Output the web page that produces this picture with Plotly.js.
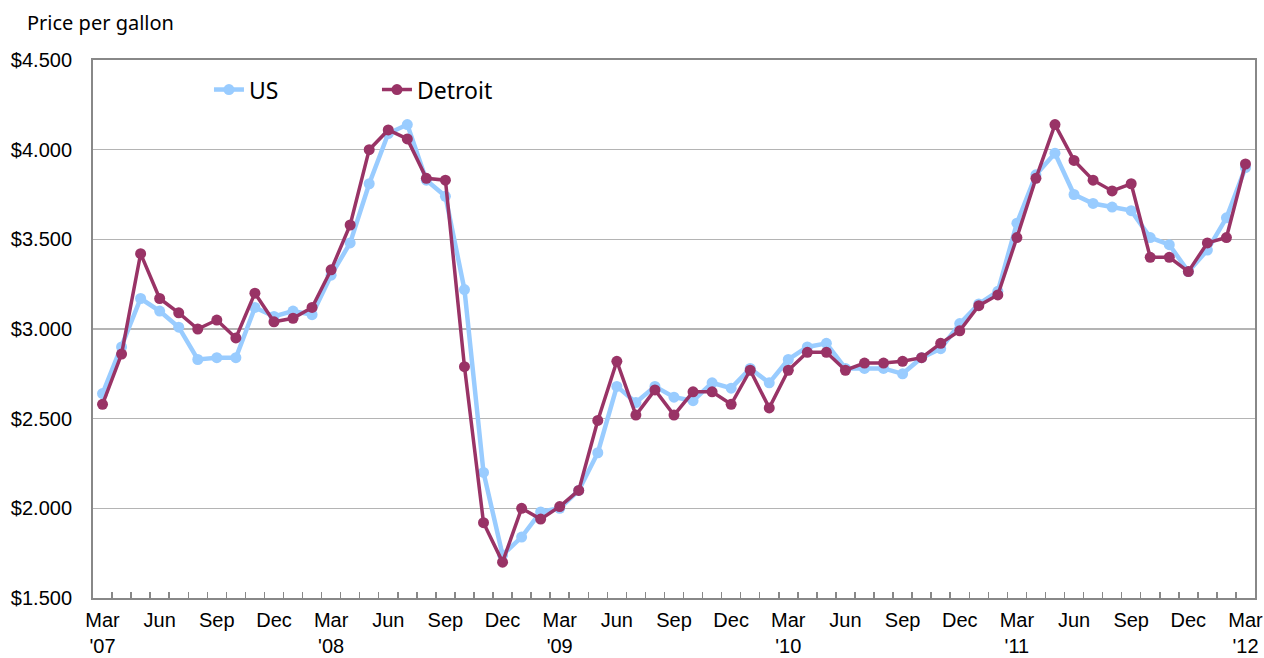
<!DOCTYPE html>
<html>
<head>
<meta charset="utf-8">
<script src="https://cdn.plot.ly/plotly-3.0.1.min.js"></script>
<style>html,body{margin:0;padding:0;background:#fff;}#chart{width:1264px;height:658px;}</style>
</head>
<body>
<div id="chart"></div>
<script>
const months = ["Mar","Apr","May","Jun","Jul","Aug","Sep","Oct","Nov","Dec","Jan","Feb"];
const startYear = 2007;
const us = [2.64, 2.90, 3.17, 3.10, 3.01, 2.83, 2.84, 2.84, 3.12, 3.07, 3.10, 3.08,
            3.30, 3.48, 3.81, 4.09, 4.14, 3.83, 3.74, 3.22, 2.20, 1.74, 1.84, 1.98,
            2.00, 2.10, 2.31, 2.68, 2.59, 2.68, 2.62, 2.60, 2.70, 2.67, 2.78, 2.70,
            2.83, 2.90, 2.92, 2.78, 2.78, 2.78, 2.75, 2.84, 2.89, 3.03, 3.14, 3.21,
            3.59, 3.86, 3.98, 3.75, 3.70, 3.68, 3.66, 3.51, 3.47, 3.32, 3.44, 3.62,
            3.90];
const detroit = [2.58, 2.86, 3.42, 3.17, 3.09, 3.00, 3.05, 2.95, 3.20, 3.04, 3.06, 3.12,
                 3.33, 3.58, 4.00, 4.11, 4.06, 3.84, 3.83, 2.79, 1.92, 1.70, 2.00, 1.94,
                 2.01, 2.10, 2.49, 2.82, 2.52, 2.66, 2.52, 2.65, 2.65, 2.58, 2.77, 2.56,
                 2.77, 2.87, 2.87, 2.77, 2.81, 2.81, 2.82, 2.84, 2.92, 2.99, 3.13, 3.19,
                 3.51, 3.84, 4.14, 3.94, 3.83, 3.77, 3.81, 3.40, 3.40, 3.32, 3.48, 3.51,
                 3.92];

const n = us.length;
const idx = us.map((_, i) => i);
const tickvals = [], ticktext = [];
for (let i = 0; i < n; i += 3) {
  const m = months[i % 12];
  let t = m;
  if (i % 12 === 0) {
    const yr = String(startYear + i / 12).slice(2);
    t = m + "<br>'" + yr;
  }
  tickvals.push(i);
  ticktext.push(t);
}
const minorVals = [];
for (let i = 0; i < n - 1; i++) minorVals.push(i + 0.5);

const traces = [
  {x: idx, y: us, name: "US", type: "scatter", mode: "lines+markers",
   line: {color: "#99CCFF", width: 4.5}, marker: {color: "#99CCFF", size: 11}},
  {x: idx, y: detroit, name: "Detroit", type: "scatter", mode: "lines+markers",
   line: {color: "#993366", width: 3.5}, marker: {color: "#993366", size: 11}}
];

const layout = {
  width: 1264, height: 658,
  margin: {l: 93, r: 9, t: 60, b: 60},
  paper_bgcolor: "#fff", plot_bgcolor: "#fff",
  font: {family: "Liberation Sans, Arial, sans-serif", size: 20, color: "#000"},
  showlegend: true,
  legend: {orientation: "h", x: 0.0998, y: 0.985, xanchor: "left", yanchor: "top",
           entrywidth: 123, entrywidthmode: "pixels",
           font: {family: "Noto Sans, sans-serif", size: 23, color: "#000"},
           bgcolor: "rgba(0,0,0,0)"},
  xaxis: {
    range: [-0.5, n - 0.5], tickmode: "array", tickvals: tickvals, ticktext: ticktext,
    ticks: "outside", ticklen: 3, tickcolor: "rgba(0,0,0,0)",
    showgrid: false, zeroline: false,
    showline: true, mirror: true, linecolor: "#888", linewidth: 2,
    tickfont: {family: "Liberation Sans, Arial, sans-serif", size: 20},
    minor: {tickmode: "array", tickvals: minorVals, ticks: "inside", ticklen: 6,
            tickcolor: "#888", tickwidth: 1.5, showgrid: false}
  },
  yaxis: {
    range: [1.5, 4.5], dtick: 0.5, tick0: 1.5, tickformat: "$.3f",
    ticks: "outside", ticklen: 15, tickcolor: "rgba(0,0,0,0)",
    showgrid: true, gridcolor: "#b4b4b4", gridwidth: 1.5, zeroline: false,
    showline: true, mirror: true, linecolor: "#888", linewidth: 2,
    tickfont: {family: "Liberation Sans, Arial, sans-serif", size: 20}
  },
  annotations: [{
    text: "Price per gallon", xref: "paper", yref: "paper",
    x: (25 - 93) / 1162, y: (598 - 22) / 538, xanchor: "left", yanchor: "middle",
    showarrow: false, font: {family: "Noto Sans, sans-serif", size: 20, color: "#000"}
  }]
};

Plotly.newPlot("chart", traces, layout, {displayModeBar: false, staticPlot: true});
</script>
</body>
</html>
